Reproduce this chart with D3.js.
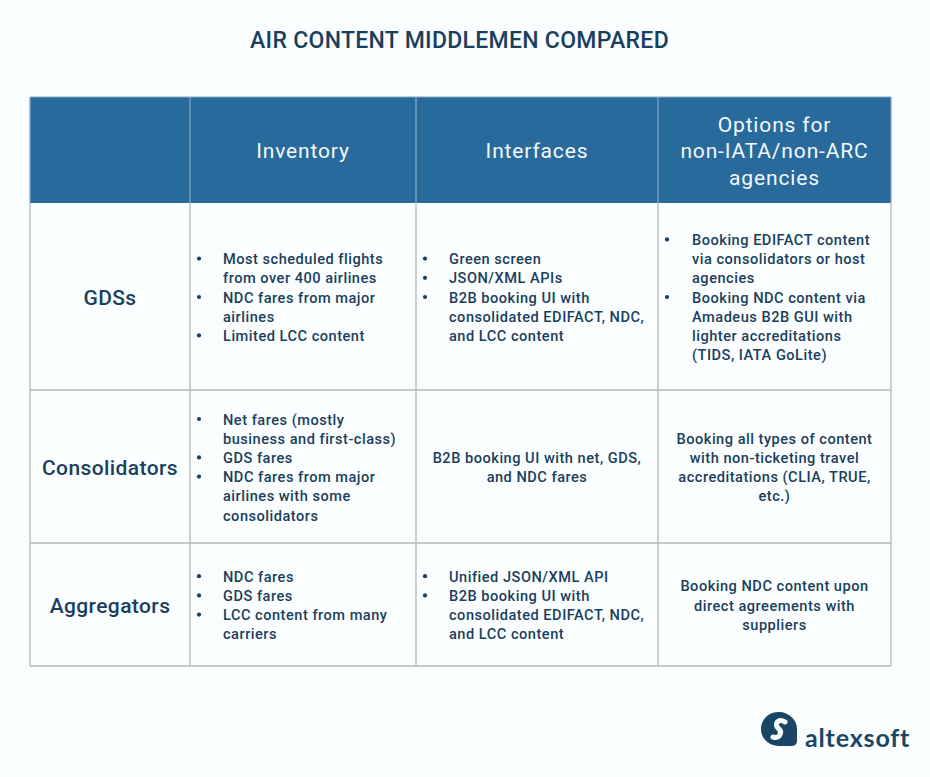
<!DOCTYPE html>
<html>
<head>
<meta charset="utf-8">
<script src="https://cdn.jsdelivr.net/npm/d3@7"></script>
<style>
  html, body { margin: 0; padding: 0; background: #fbfeff; }
  svg { display: block; }
  text { font-family: Roboto, sans-serif; }
</style>
</head>
<body>
<div id="chart"></div>
<script>
const title = 'AIR CONTENT MIDDLEMEN COMPARED';
const columns = [['Inventory'], ['Interfaces'], ['Options for', 'non-IATA/non-ARC', 'agencies']];
const rowNames = ['GDSs', 'Consolidators', 'Aggregators'];

// each cell: list of bullets (each one a list of wrapped lines), or plain centered lines
const inventory = [
  { bullets: [['Most scheduled flights', 'from over 400 airlines'], ['NDC fares from major', 'airlines'], ['Limited LCC content']] },
  { bullets: [['Net fares (mostly', 'business and first-class)'], ['GDS fares'], ['NDC fares from major', 'airlines with some', 'consolidators']] },
  { bullets: [['NDC fares'], ['GDS fares'], ['LCC content from many', 'carriers']] }
];
const interfaces = [
  { bullets: [['Green screen'], ['JSON/XML APIs'], ['B2B booking UI with', 'consolidated EDIFACT, NDC,', 'and LCC content']] },
  { plain: ['B2B booking UI with net, GDS,', 'and NDC fares'] },
  { bullets: [['Unified JSON/XML API'], ['B2B booking UI with', 'consolidated EDIFACT, NDC,', 'and LCC content']] }
];
const options = [
  { bullets: [['Booking EDIFACT content', 'via consolidators or host', 'agencies'], ['Booking NDC content via', 'Amadeus B2B GUI with', 'lighter accreditations', '(TIDS, IATA GoLite)']] },
  { plain: ['Booking all types of content', 'with non-ticketing travel', 'accreditations (CLIA, TRUE,', 'etc.)'] },
  { plain: ['Booking NDC content upon', 'direct agreements with', 'suppliers'] }
];
const cellColumns = [inventory, interfaces, options];

const width = 930, height = 777;
const colEdges = [30, 190, 416, 658, 891];
const rowEdges = [97, 203, 390, 543, 666];
const lineH = 19.2;
const navy = '#1a3f5c', headBlue = '#286a9b', rule = '#b5b8ba', headRule = '#7fa6c4';

const svg = d3.select('#chart').append('svg').attr('width', width).attr('height', height);
svg.append('rect').attr('width', width).attr('height', height).attr('fill', '#fbfeff');

svg.append('text').attr('x', 459.5).attr('y', 48).attr('text-anchor', 'middle')
  .attr('fill', navy).attr('font-size', 23).attr('font-weight', 500).attr('letter-spacing', 0.3)
  .text(title);

// header band + grid
svg.append('rect').attr('x', colEdges[0]).attr('y', rowEdges[0])
  .attr('width', colEdges[4] - colEdges[0]).attr('height', rowEdges[1] - rowEdges[0])
  .attr('fill', headBlue);
svg.append('g').selectAll('line').data(colEdges).join('line')
  .attr('x1', d => d).attr('x2', d => d).attr('y1', rowEdges[1]).attr('y2', rowEdges[4])
  .attr('stroke', rule).attr('stroke-width', 1.3);
svg.append('g').selectAll('line').data(colEdges).join('line')
  .attr('x1', d => d).attr('x2', d => d).attr('y1', rowEdges[0]).attr('y2', rowEdges[1])
  .attr('stroke', headRule).attr('stroke-width', 1.3);
svg.append('line').attr('x1', colEdges[0]).attr('x2', colEdges[4]).attr('y1', rowEdges[0]).attr('y2', rowEdges[0])
  .attr('stroke', headRule).attr('stroke-width', 1);
svg.append('g').selectAll('line').data(rowEdges.slice(2)).join('line')
  .attr('x1', colEdges[0]).attr('x2', colEdges[4]).attr('y1', d => d).attr('y2', d => d)
  .attr('stroke', rule).attr('stroke-width', 1.3);

// header labels
columns.forEach((lines, i) => {
  const cx = (colEdges[i + 1] + colEdges[i + 2]) / 2;
  const cy = (rowEdges[0] + rowEdges[1]) / 2;
  const step = 26.5;
  svg.append('g').selectAll('text').data(lines).join('text')
    .attr('x', cx)
    .attr('y', (d, j) => cy + (j - (lines.length - 1) / 2) * step + 8)
    .attr('text-anchor', 'middle').attr('fill', '#f4f9fc')
    .attr('font-size', 21).attr('letter-spacing', 0.85)
    .text(d => d);
});

// row labels
rowNames.forEach((name, i) => {
  svg.append('text')
    .attr('x', (colEdges[0] + colEdges[1]) / 2)
    .attr('y', (rowEdges[i + 1] + rowEdges[i + 2]) / 2 + 8)
    .attr('text-anchor', 'middle').attr('fill', navy)
    .attr('font-size', 21).attr('font-weight', 500).attr('letter-spacing', 0.4)
    .text(name);
});

// body cells
cellColumns.forEach((cells, c) => {
  const left = colEdges[c + 1], right = colEdges[c + 2];
  const bulletX = left + 9;
  const textX = left + (c === 2 ? 34 : 33);
  cells.forEach((cell, r) => {
    const cy = (rowEdges[r + 1] + rowEdges[r + 2]) / 2;
    const g = svg.append('g').attr('fill', navy).attr('font-size', 14.6)
      .attr('font-weight', 500).attr('letter-spacing', 0.5);
    if (cell.plain) {
      const top = cy - (cell.plain.length - 1) / 2 * lineH;
      g.selectAll('text').data(cell.plain).join('text')
        .attr('x', (left + right) / 2)
        .attr('y', (d, j) => top + j * lineH + 6)
        .attr('text-anchor', 'middle')
        .text(d => d);
    } else {
      const total = d3.sum(cell.bullets, b => b.length);
      let n = 0;
      const top = cy - (total - 1) / 2 * lineH;
      cell.bullets.forEach(b => {
        g.append('circle').attr('cx', bulletX).attr('cy', top + n * lineH + 0.5).attr('r', 2.1);
        b.forEach(line => {
          g.append('text').attr('x', textX).attr('y', top + n * lineH + 6).text(line);
          n++;
        });
      });
    }
  });
});

// logo
const logo = svg.append('g').attr('fill', '#1a4666');
logo.append('path').attr('d', 'M779 712 C768 712 761 720 761 729 C761 739 769 746 779 746 L791 746 Q797 746 797 741 L797 729 C797 720 789 712 779 712 Z');
logo.append('path').attr('fill', 'none').attr('stroke', '#fbfeff').attr('stroke-width', 5).attr('stroke-linecap', 'round')
  .attr('d', 'M785 722 C778 718 774 724 778 728 C783 732 780 739 773 737');
logo.append('text').attr('x', 805).attr('y', 747).attr('font-size', 25).attr('font-weight', 700)
  .style('font-family', 'Lato, sans-serif').attr('letter-spacing', 0.85).text('altexsoft');
</script>
</body>
</html>
